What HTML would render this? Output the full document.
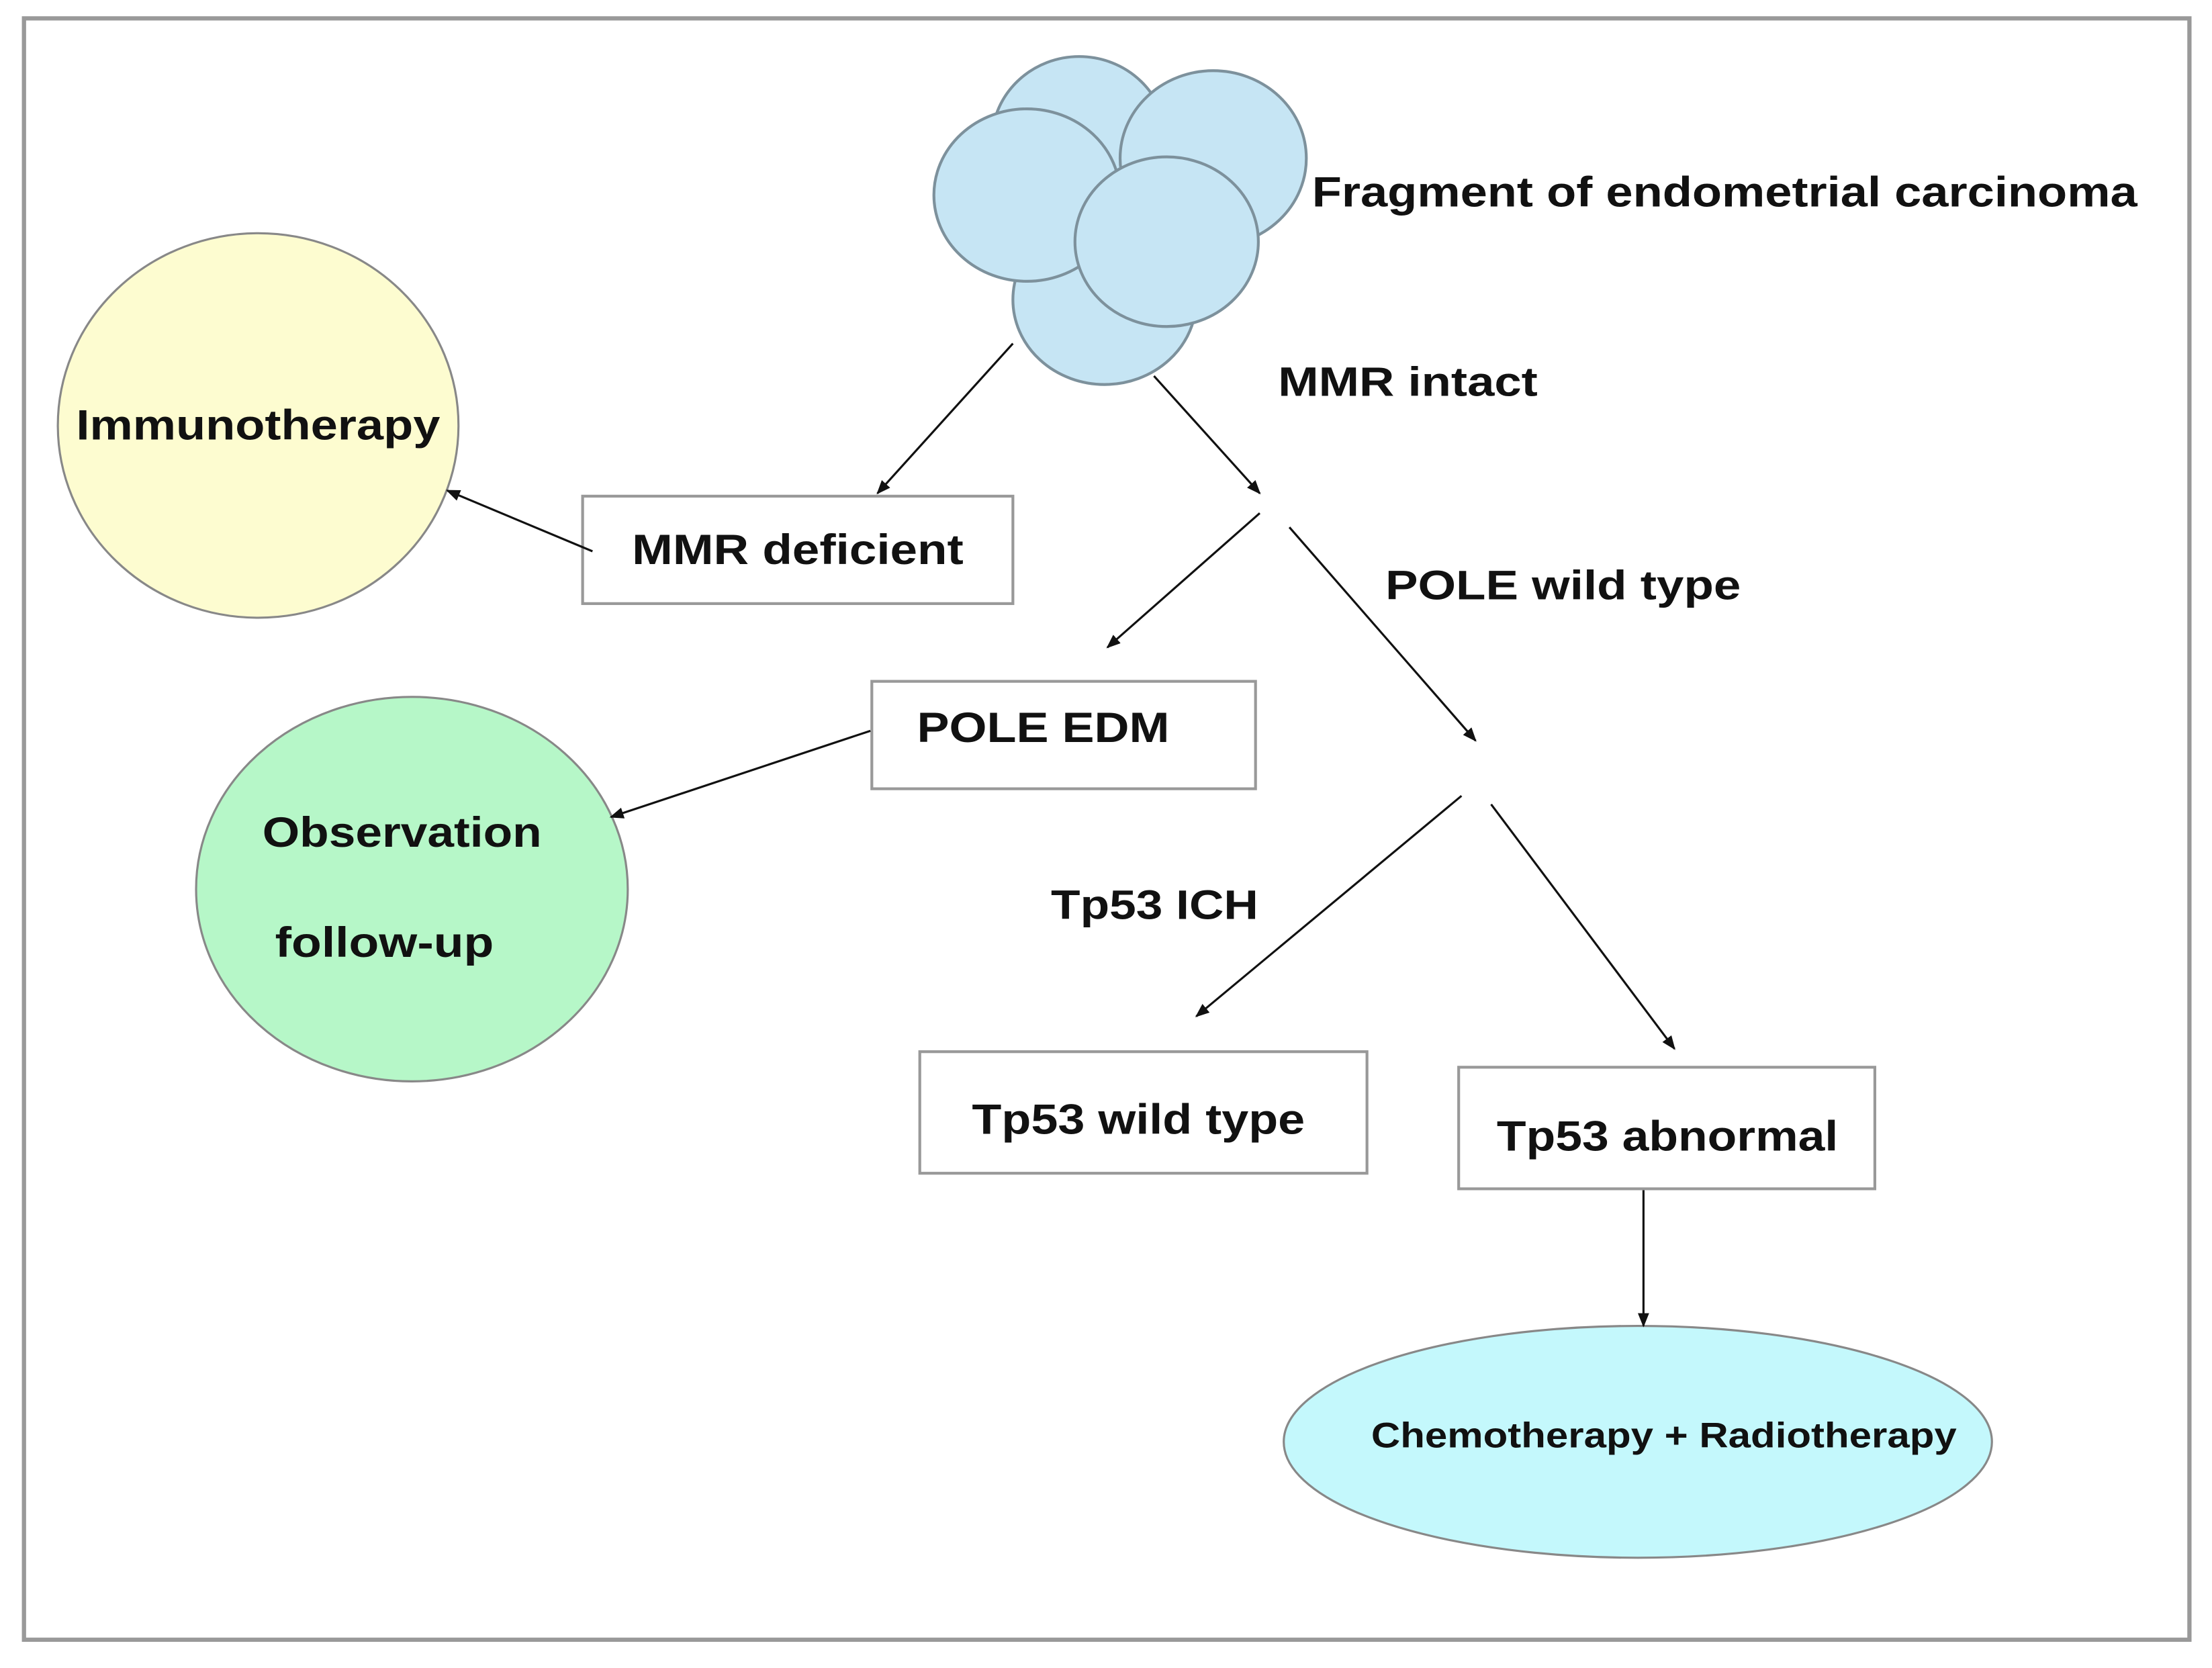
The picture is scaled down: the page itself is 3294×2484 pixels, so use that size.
<!DOCTYPE html>
<html><head><meta charset="utf-8"><style>
html,body{margin:0;padding:0;background:#fff;}
svg{display:block}
text{font-family:"Liberation Sans",Arial,sans-serif;font-weight:bold;fill:#111;}
</style></head><body>
<svg width="3294" height="2484" viewBox="0 0 1568 1180" preserveAspectRatio="none" xmlns="http://www.w3.org/2000/svg">
<defs><marker id="a" markerWidth="10" markerHeight="8" refX="9" refY="4" orient="auto" markerUnits="userSpaceOnUse"><path d="M0,0 L10,4 L0,8 z" fill="#111"/></marker></defs>
<rect x="0" y="0" width="1568" height="1180" fill="#fff"/>
<rect x="17" y="13" width="1535" height="1147" fill="none" stroke="#999" stroke-width="3"/>
<g fill="#c6e5f4" stroke="#7d919c" stroke-width="2">
<ellipse cx="765" cy="100" rx="62" ry="60"/>
<ellipse cx="783" cy="212" rx="65" ry="60"/>
<ellipse cx="728" cy="138" rx="66" ry="61"/>
<ellipse cx="860" cy="112" rx="66" ry="62"/>
<ellipse cx="827" cy="171" rx="65" ry="60"/>
</g>
<ellipse cx="183" cy="301" rx="142" ry="136" fill="#fdfcd0" stroke="#888" stroke-width="1.5"/>
<ellipse cx="292" cy="629" rx="153" ry="136" fill="#b6f7c8" stroke="#888" stroke-width="1.5"/>
<ellipse cx="1161" cy="1020" rx="251" ry="82" fill="#c4f8fc" stroke="#888" stroke-width="1.5"/>
<g fill="#fff" stroke="#999" stroke-width="2">
<rect x="413" y="351" width="305" height="76"/>
<rect x="618" y="482" width="272" height="76"/>
<rect x="652" y="744" width="317" height="86"/>
<rect x="1034" y="755" width="295" height="86"/>
</g>
<g stroke="#111" stroke-width="1.5" fill="none" marker-end="url(#a)">
<line x1="718" y1="243" x2="622" y2="349"/>
<line x1="818" y1="266" x2="893" y2="349"/>
<line x1="893" y1="363" x2="785" y2="458"/>
<line x1="914" y1="373" x2="1046" y2="524"/>
<line x1="420" y1="390" x2="317" y2="347"/>
<line x1="617" y1="517" x2="433" y2="578"/>
<line x1="1036" y1="563" x2="848" y2="719"/>
<line x1="1057" y1="569" x2="1187" y2="742"/>
<line x1="1165" y1="842" x2="1165" y2="938"/>
</g>
<text x="930" y="146" font-size="30" textLength="585" lengthAdjust="spacingAndGlyphs">Fragment of endometrial carcinoma</text>
<text x="906" y="280" font-size="29" textLength="184" lengthAdjust="spacingAndGlyphs">MMR intact</text>
<text x="54" y="311" font-size="30" textLength="258" lengthAdjust="spacingAndGlyphs">Immunotherapy</text>
<text x="448" y="399" font-size="30" textLength="235" lengthAdjust="spacingAndGlyphs">MMR deficient</text>
<text x="982" y="424" font-size="29" textLength="252" lengthAdjust="spacingAndGlyphs">POLE wild type</text>
<text x="650" y="525" font-size="30" textLength="179" lengthAdjust="spacingAndGlyphs">POLE EDM</text>
<text x="186" y="599" font-size="30" textLength="198" lengthAdjust="spacingAndGlyphs">Observation</text>
<text x="195" y="677" font-size="30" textLength="155" lengthAdjust="spacingAndGlyphs">follow-up</text>
<text x="745" y="650" font-size="29" textLength="147" lengthAdjust="spacingAndGlyphs">Tp53 ICH</text>
<text x="689" y="802" font-size="30" textLength="236" lengthAdjust="spacingAndGlyphs">Tp53 wild type</text>
<text x="1061" y="814" font-size="30" textLength="242" lengthAdjust="spacingAndGlyphs">Tp53 abnormal</text>
<text x="972" y="1024" font-size="25" textLength="415" lengthAdjust="spacingAndGlyphs">Chemotherapy + Radiotherapy</text>
</svg>
</body></html>
